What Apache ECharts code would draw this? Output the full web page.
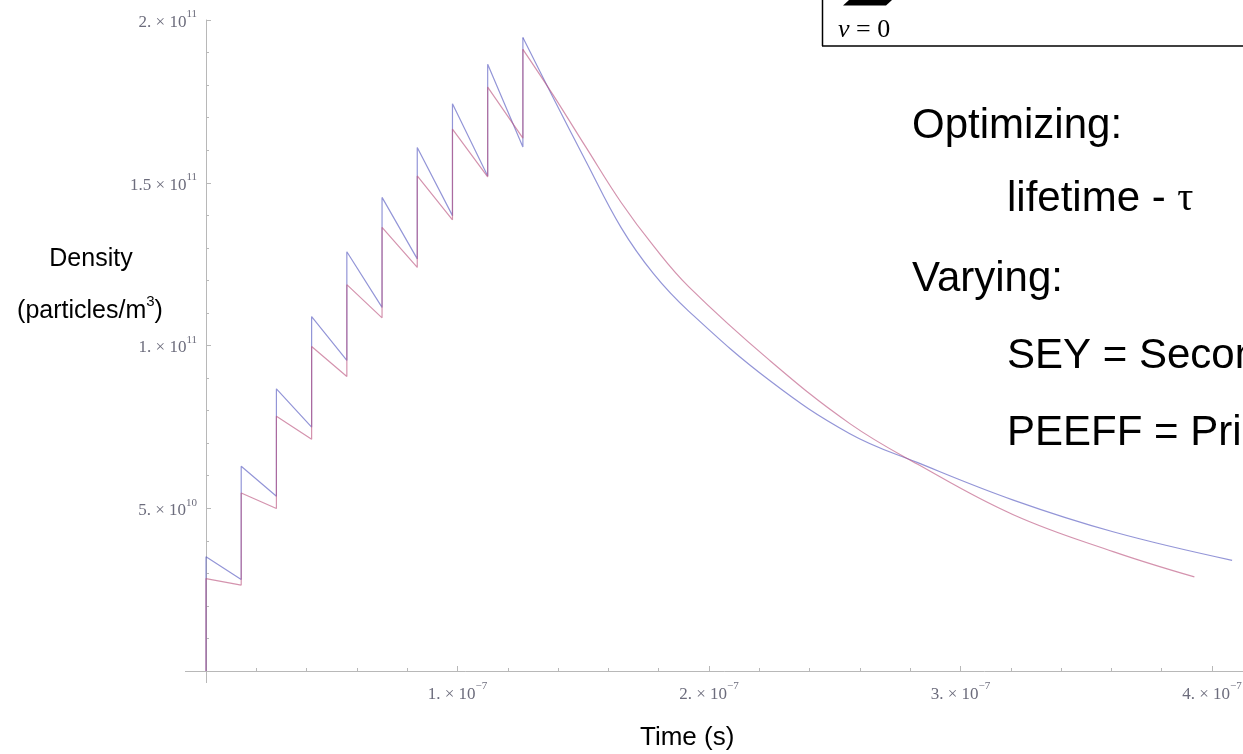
<!DOCTYPE html>
<html>
<head>
<meta charset="utf-8">
<script src="https://cdn.jsdelivr.net/npm/echarts@6/dist/echarts.min.js"></script>
<style>
  html, body { margin: 0; padding: 0; background: #fff; }
  #density_chart { width: 1243px; height: 754px; }
</style>
</head>
<body>
<div id="density_chart"></div>
<script type="text/javascript">
// pulse times (ns) and densities (x 1e10 particles/m^3)
var pulseTimes = [0, 14, 28, 42, 56, 70, 84, 98, 112, 126];
var bluePeaks  = [3.51, 6.29, 8.67, 10.89, 12.88, 14.55, 16.08, 17.43, 18.64, 19.46];
var blueLows   = [2.81, 5.37, 7.49, 9.54, 11.17, 12.66, 13.99, 15.21, 16.10];
var redPeaks   = [2.84, 5.47, 7.83, 9.97, 11.87, 13.63, 15.21, 16.65, 17.94, 19.10];
var redLows    = [2.64, 4.99, 7.12, 9.05, 10.85, 12.40, 13.86, 15.18, 16.37];

// decay after the last pulse
var tailTimes = [138, 151, 165, 178, 192, 224, 256, 283, 321, 361];
var blueTail  = [17.62, 15.67, 13.63, 12.20, 11.05, 8.93, 7.29, 6.40, 5.25, 4.27];
var redTail   = [17.70, 16.10, 14.40, 13.05, 11.80, 9.55, 7.60, 6.35, 4.80, 3.66];
var blueEnd = [408, 3.40];
var redEnd  = [393, 2.89];

// tick labels
var xTickValues = [1e-7, 2e-7, 3e-7, 4e-7];
var xTickMant   = ['1.', '2.', '3.', '4.'];
var xTickExp    = ['\u22127', '\u22127', '\u22127', '\u22127'];
var yTickValues = [5e10, 1e11, 1.5e11, 2e11];
var yTickMant   = ['5.', '1.', '1.5', '2.'];
var yTickExp    = ['10', '11', '11', '11'];

function sawtooth(peaks, lows) {
    var pts = [[0, 0]];
    for (var i = 0; i < pulseTimes.length; i++) {
        pts.push([pulseTimes[i] * 1e-9, peaks[i] * 1e10]);
        if (i < lows.length) pts.push([pulseTimes[i + 1] * 1e-9, lows[i] * 1e10]);
    }
    return pts;
}
function tail(peaks, vals, end) {
    var last = pulseTimes.length - 1;
    var pts = [[pulseTimes[last] * 1e-9, peaks[last] * 1e10]];
    for (var i = 0; i < tailTimes.length; i++) pts.push([tailTimes[i] * 1e-9, vals[i] * 1e10]);
    pts.push([end[0] * 1e-9, end[1] * 1e10]);
    return pts;
}
function sciLabel(vals, mant, exp) {
    return function (v) {
        for (var i = 0; i < vals.length; i++) {
            if (Math.abs(v - vals[i]) < vals[i] * 1e-6) return '{m|' + mant[i] + ' \u00d7 10}{e|' + exp[i] + '}';
        }
        return '';
    };
}

var blue = 'rgba(80,84,190,0.62)';
var red = 'rgba(185,80,125,0.62)';
var axisCol = '#b8b8b8';
var labelRich = {
    m: { fontFamily: 'Liberation Serif', fontSize: 17, color: '#6c6c7c', lineHeight: 22, verticalAlign: 'bottom' },
    e: { fontFamily: 'Liberation Serif', fontSize: 11, color: '#6c6c7c', lineHeight: 22, verticalAlign: 'top' }
};
var sans = 'Liberation Sans';

var option = {
    animation: false,
    // the 5e-7 end of the axis lies past the right edge, as in the cropped original
    grid: { left: 206, top: 20, width: 1257.5, height: 651, outerBoundsMode: 'none', containLabel: false },
    xAxis: {
        type: 'value', min: 0, max: 5e-7, interval: 1e-7,
        axisLine: { lineStyle: { color: axisCol, width: 1 } },
        axisTick: { inside: true, length: 5, lineStyle: { color: axisCol } },
        minorTick: { show: true, splitNumber: 5, length: 3, lineStyle: { color: axisCol } },
        splitLine: { show: false },
        axisLabel: { margin: 10, formatter: sciLabel(xTickValues, xTickMant, xTickExp), rich: labelRich }
    },
    yAxis: {
        type: 'value', min: 0, max: 2e11, interval: 5e10,
        axisLine: { show: true, lineStyle: { color: axisCol, width: 1 } },
        axisTick: { show: true, inside: true, length: 5, lineStyle: { color: axisCol } },
        minorTick: { show: true, splitNumber: 5, length: 3, lineStyle: { color: axisCol } },
        splitLine: { show: false },
        axisLabel: { margin: 9, formatter: sciLabel(yTickValues, yTickMant, yTickExp), rich: labelRich }
    },
    series: [
        { type: 'line', name: 'blue', data: sawtooth(bluePeaks, blueLows), showSymbol: false, lineStyle: { color: blue, width: 1.2 } },
        { type: 'line', name: 'red', data: sawtooth(redPeaks, redLows), showSymbol: false, lineStyle: { color: red, width: 1.2 } },
        { type: 'line', name: 'blue tail', data: tail(bluePeaks, blueTail, blueEnd), smooth: 0.4, showSymbol: false, lineStyle: { color: blue, width: 1.2 } },
        { type: 'line', name: 'red tail', data: tail(redPeaks, redTail, redEnd), smooth: 0.4, showSymbol: false, lineStyle: { color: red, width: 1.2 } }
    ],
    graphic: [
        { type: 'text', x: 91, y: 259, style: { text: 'Density', font: '25px ' + sans, fill: '#000', align: 'center', verticalAlign: 'middle' } },
        { type: 'text', x: 90, y: 309, style: {
            text: '{a|(particles/m}{s|3}{a|)}', align: 'center', verticalAlign: 'middle',
            rich: { a: { font: '25px ' + sans, fill: '#000', lineHeight: 30, verticalAlign: 'bottom' },
                    s: { font: '15px ' + sans, fill: '#000', lineHeight: 30, verticalAlign: 'top' } } } },
        { type: 'text', x: 640, y: 738, style: { text: 'Time (s)', font: '26px ' + sans, fill: '#000', verticalAlign: 'middle' } },

        { type: 'line', shape: { x1: 822.5, y1: 0, x2: 822.5, y2: 46 }, style: { stroke: '#000', lineWidth: 1.5 } },
        { type: 'line', shape: { x1: 822, y1: 46, x2: 1243, y2: 46 }, style: { stroke: '#000', lineWidth: 1.5 } },
        { type: 'polygon', shape: { points: [[843, 5.5], [886, 5.5], [892, 0], [849, 0]] }, style: { fill: '#000' } },
        { type: 'text', x: 838, y: 30, style: {
            text: '{i|\u03bd}{r| = 0}', verticalAlign: 'middle',
            rich: { i: { font: 'italic 26px Liberation Serif', fill: '#000' }, r: { font: '26px Liberation Serif', fill: '#000' } } } },

        { type: 'text', x: 912, y: 126, style: { text: 'Optimizing:', font: '42px ' + sans, fill: '#000', verticalAlign: 'middle' } },
        { type: 'text', x: 1007, y: 199, style: {
            text: '{a|lifetime - }{g|\u03c4}', verticalAlign: 'middle',
            rich: { a: { font: '42px ' + sans, fill: '#000' }, g: { font: '40px Liberation Serif', fill: '#000' } } } },
        { type: 'text', x: 912, y: 279, style: { text: 'Varying:', font: '42px ' + sans, fill: '#000', verticalAlign: 'middle' } },
        { type: 'text', x: 1007, y: 356, style: { text: 'SEY = Secondary', font: '42px ' + sans, fill: '#000', verticalAlign: 'middle' } },
        { type: 'text', x: 1007, y: 433, style: { text: 'PEEFF = Primary', font: '42px ' + sans, fill: '#000', verticalAlign: 'middle' } }
    ]
};

var density_chart = echarts.init(document.getElementById('density_chart'));
density_chart.setOption(option);

// short axis stubs past the origin, as in the original plot
var o = density_chart.convertToPixel({ gridIndex: 0 }, [0, 0]);
option.graphic.push(
    { type: 'line', shape: { x1: o[0] - 21, y1: o[1] + 0.5, x2: o[0], y2: o[1] + 0.5 }, style: { stroke: axisCol, lineWidth: 1 } },
    { type: 'line', shape: { x1: o[0] + 0.5, y1: o[1], x2: o[0] + 0.5, y2: o[1] + 12 }, style: { stroke: axisCol, lineWidth: 1 } }
);
density_chart.setOption({ graphic: option.graphic });
</script>
</body>
</html>
